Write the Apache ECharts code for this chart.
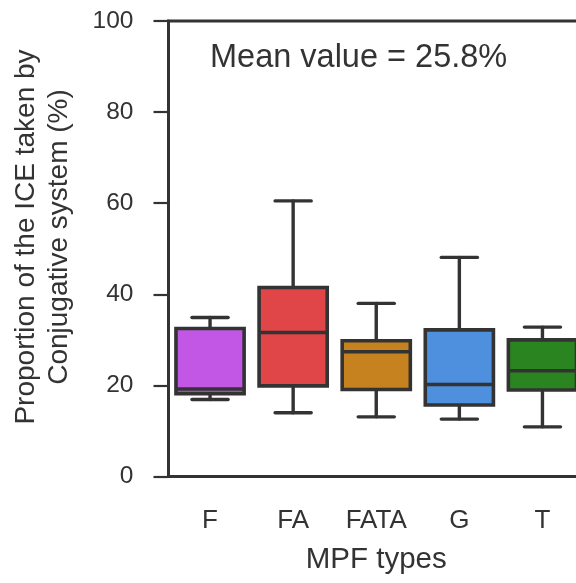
<!DOCTYPE html>
<html>
<head>
<meta charset="utf-8">
<script src="https://cdn.jsdelivr.net/npm/echarts@6/dist/echarts.min.js"></script>
<style>
html,body{margin:0;padding:0;background:#fff;}
#chart{width:576px;height:583px;}
</style>
</head>
<body>
<div id="chart"></div>
<script>
var categories = ['F', 'FA', 'FATA', 'G', 'T'];
var lowWhisker = [16.9, 14.0, 13.1, 12.6, 10.9];
var q1 = [18.2, 19.9, 19.1, 15.7, 19.0];
var median = [19.2, 31.6, 27.4, 20.2, 23.2];
var q3 = [32.5, 41.5, 29.8, 32.2, 30.0];
var highWhisker = [34.9, 60.5, 38.0, 48.1, 32.8];
var boxColors = ['#c257e6', '#e04548', '#c5821e', '#4f90de', '#2a8520'];
var yTicks = [0, 20, 40, 60, 80, 100];
var meanLabel = 'Mean value = 25.8%';

var FONT = '"Liberation Sans", Arial, sans-serif';
var INK = '#333333';

var data = categories.map(function (c, i) {
  return [i, lowWhisker[i], q1[i], median[i], q3[i], highWhisker[i]];
});

function renderBox(params, api) {
  var idx = api.value(0);
  var lo = api.coord([idx, api.value(1)]);
  var b1 = api.coord([idx, api.value(2)]);
  var md = api.coord([idx, api.value(3)]);
  var b3 = api.coord([idx, api.value(4)]);
  var hi = api.coord([idx, api.value(5)]);
  var bw = api.size([1, 0])[0] * 0.82;
  var cw = bw * 0.53;
  var x = lo[0];
  var lineStyle = { stroke: INK, lineWidth: 3.4, lineCap: 'round' };
  return {
    type: 'group',
    children: [
      { type: 'line', shape: { x1: x, y1: b3[1], x2: x, y2: hi[1] }, style: lineStyle },
      { type: 'line', shape: { x1: x, y1: b1[1], x2: x, y2: lo[1] }, style: lineStyle },
      { type: 'line', shape: { x1: x - cw / 2, y1: hi[1], x2: x + cw / 2, y2: hi[1] }, style: lineStyle },
      { type: 'line', shape: { x1: x - cw / 2, y1: lo[1], x2: x + cw / 2, y2: lo[1] }, style: lineStyle },
      { type: 'rect', shape: { x: x - bw / 2, y: b3[1], width: bw, height: b1[1] - b3[1] },
        style: { fill: boxColors[idx], stroke: INK, lineWidth: 3.6 } },
      { type: 'line', shape: { x1: x - bw / 2, y1: md[1], x2: x + bw / 2, y2: md[1] },
        style: { stroke: INK, lineWidth: 3.6 } }
    ]
  };
}

var chart = echarts.init(document.getElementById('chart'), null, { renderer: 'canvas' });
chart.setOption({
  animation: false,
  backgroundColor: '#ffffff',
  grid: {
    left: 168.5, top: 21, width: 415.5, height: 455.5,
    outerBoundsMode: 'none',
    containLabel: false,
    show: true, borderColor: INK, borderWidth: 3, backgroundColor: 'transparent'
  },
  xAxis: {
    type: 'category',
    data: categories,
    boundaryGap: true,
    name: 'MPF types',
    nameLocation: 'middle',
    nameGap: 68,
    nameTextStyle: { fontFamily: FONT, fontSize: 29.5, color: INK },
    axisLine: { lineStyle: { color: INK, width: 3 } },
    axisTick: { alignWithLabel: true, length: 15, lineStyle: { color: INK, width: 2.2 } },
    axisLabel: { fontFamily: FONT, fontSize: 26, color: INK, margin: 31 },
    splitLine: { show: false }
  },
  yAxis: {
    type: 'value',
    min: 0, max: 100, interval: 20,
    axisLine: { show: true, lineStyle: { color: INK, width: 3 } },
    axisTick: { show: true, length: 15, lineStyle: { color: INK, width: 2.2 } },
    axisLabel: {
      fontFamily: FONT, fontSize: 24.5, color: INK, margin: 35,
      formatter: function (v) { return yTicks.indexOf(v) >= 0 ? String(v) : ''; }
    },
    splitLine: { show: false }
  },
  graphic: [
    {
      type: 'text',
      x: 43, y: 237,
      rotation: Math.PI / 2,
      style: {
        text: 'Proportion of the ICE taken by\nConjugative system (%)',
        fontFamily: FONT, fontSize: 28, fill: INK,
        textAlign: 'center', textVerticalAlign: 'middle', lineHeight: 33
      }
    },
    {
      type: 'text',
      x: 210, y: 58,
      style: {
        text: meanLabel,
        fontFamily: FONT, fontSize: 32.5, fill: INK,
        textAlign: 'left', textVerticalAlign: 'middle'
      }
    }
  ],
  series: [{
    type: 'custom',
    renderItem: renderBox,
    encode: { x: 0, y: [1, 2, 3, 4, 5] },
    data: data,
    clip: false
  }]
});
</script>
</body>
</html>
